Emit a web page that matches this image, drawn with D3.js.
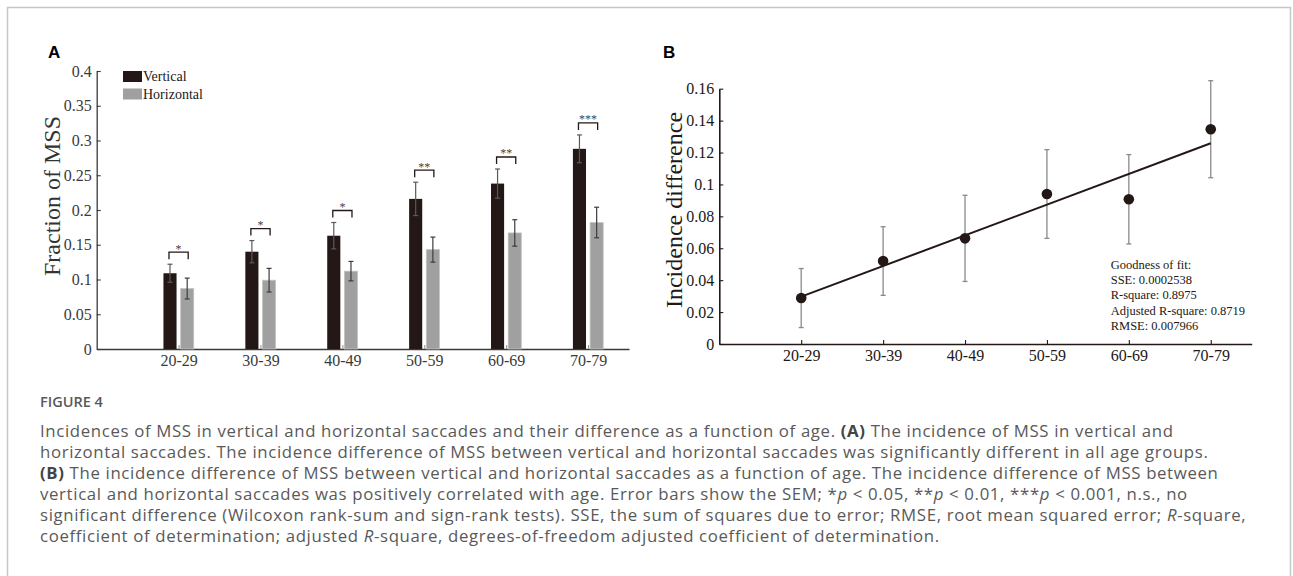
<!DOCTYPE html>
<html>
<head>
<meta charset="utf-8">
<script src="https://cdn.jsdelivr.net/npm/d3@7"></script>
<style>
  body { margin: 0; background: #fff; }
  svg { display: block; }
  .serif { font-family: "Liberation Serif", "Times New Roman", serif; }
  .caption { font-family: "Open Sans", sans-serif; fill: #595959; }
</style>
</head>
<body>
<div id="chart"></div>
<script>

// age groups shared by both panels
const ageGroups = ['20-29', '30-39', '40-49', '50-59', '60-69', '70-79'];

// panel A: fraction of MSS
const verticalMean = [0.109, 0.140, 0.163, 0.216, 0.238, 0.288];
const verticalSem = [0.013, 0.016, 0.019, 0.024, 0.021, 0.020];
const horizontalMean = [0.087, 0.099, 0.112, 0.143, 0.167, 0.182];
const horizontalSem = [0.015, 0.017, 0.014, 0.018, 0.019, 0.022];
const signif = ['*', '*', '*', '**', '**', '***'];
const ticksA = [0, 0.05, 0.1, 0.15, 0.2, 0.25, 0.3, 0.35, 0.4];

// panel B: incidence difference
const diffMean = [0.0288, 0.052, 0.0662, 0.094, 0.0907, 0.1346];
const diffSem = [0.0185, 0.0215, 0.027, 0.0278, 0.028, 0.0304];
const ticksB = [0, 0.02, 0.04, 0.06, 0.08, 0.1, 0.12, 0.14, 0.16];
const fitText = ['Goodness of fit:', 'SSE: 0.0002538', 'R-square: 0.8975', 'Adjusted R-square: 0.8719', 'RMSE: 0.007966'];

const captionTitle = 'FIGURE 4';
const captionLines = [
  [['Incidences of MSS in vertical and horizontal saccades and their difference as a function of age. '], ['(A)', 'b'], [' The incidence of MSS in vertical and']],
  [['horizontal saccades. The incidence difference of MSS between vertical and horizontal saccades was significantly different in all age groups.']],
  [['(B)', 'b'], [' The incidence difference of MSS between vertical and horizontal saccades as a function of age. The incidence difference of MSS between']],
  [['vertical and horizontal saccades was positively correlated with age. Error bars show the SEM; *'], ['p', 'i'], [' < 0.05, **'], ['p', 'i'], [' < 0.01, ***'], ['p', 'i'], [' < 0.001, n.s., no']],
  [['significant difference (Wilcoxon rank-sum and sign-rank tests). SSE, the sum of squares due to error; RMSE, root mean squared error; '], ['R', 'i'], ['-square,']],
  [['coefficient of determination; adjusted '], ['R', 'i'], ['-square, degrees-of-freedom adjusted coefficient of determination.']]
];

const W = 1293, H = 576;
const fmt = (d) => d === 0 ? '0' : String(+d.toFixed(2));

const svg = d3.select('#chart').append('svg')
  .attr('width', W)
  .attr('height', H);

// frame
svg.append('rect')
  .attr('x', 7.5).attr('y', 7.5)
  .attr('width', 1283).attr('height', 600)
  .attr('fill', 'none')
  .attr('stroke', '#c6c6c6')
  .attr('stroke-width', 1.5);

const styleAxis = (g, col) => {
  g.select('.domain').attr('stroke', col).attr('stroke-width', 1.3);
  g.selectAll('.tick line').attr('stroke', col).attr('stroke-width', 1.1);
  g.selectAll('.tick text')
    .attr('class', 'serif')
    .attr('font-size', 16)
    .attr('fill', col);
};

// ---------- panel A ----------
const xA = d3.scaleLinear().domain([0, 6.5]).range([96.7, 629]);
const yA = d3.scaleLinear().domain([0, 0.4]).range([349, 71]);

svg.append('text')
  .attr('x', 48).attr('y', 58)
  .attr('font-family', 'Liberation Sans, Arial, sans-serif')
  .attr('font-weight', 'bold')
  .attr('font-size', 17)
  .text('A');

const gA = svg.append('g');

gA.append('g')
  .attr('transform', `translate(${xA(0)},0)`)
  .call(d3.axisLeft(yA).tickValues(ticksA).tickFormat(fmt).tickSize(-4).tickSizeOuter(0).tickPadding(5))
  .call((g) => styleAxis(g, '#3a3a3a'));

gA.append('g')
  .attr('transform', `translate(0,${yA(0)})`)
  .call(d3.axisBottom(xA).tickValues([1, 2, 3, 4, 5, 6]).tickFormat((d) => ageGroups[d - 1]).tickSize(-4).tickSizeOuter(0).tickPadding(6))
  .call((g) => styleAxis(g, '#3a3a3a'))
  .call((g) => g.selectAll('.tick line').attr('stroke', '#999'));

const groups = ageGroups.map((name, i) => ({
  name,
  pos: i + 1,
  v: verticalMean[i], vs: verticalSem[i],
  h: horizontalMean[i], hs: horizontalSem[i],
  star: signif[i]
}));

const barL = 0.185, barR = 0.025;

// vertical bars
gA.selectAll('.bar-v')
  .data(groups)
  .enter().append('rect')
    .attr('x', (d) => xA(d.pos - barL))
    .attr('width', (d) => xA(d.pos - barR) - xA(d.pos - barL))
    .attr('y', (d) => yA(d.v))
    .attr('height', (d) => yA(0) - yA(d.v))
    .attr('fill', '#231815');

// horizontal bars
gA.selectAll('.bar-h')
  .data(groups)
  .enter().append('rect')
    .attr('x', (d) => xA(d.pos + barR))
    .attr('width', (d) => xA(d.pos + barL) - xA(d.pos + barR))
    .attr('y', (d) => yA(d.h))
    .attr('height', (d) => yA(0) - yA(d.h))
    .attr('fill', '#a0a0a0')
    .attr('stroke', '#c4c4c4')
    .attr('stroke-width', 0.8);

const errBar = (g, cx, lo, hi, col, cap, w) => {
  g.append('line').attr('x1', cx).attr('x2', cx).attr('y1', lo).attr('y2', hi)
    .attr('stroke', col).attr('stroke-width', w);
  [lo, hi].forEach((y) => {
    g.append('line').attr('x1', cx - cap).attr('x2', cx + cap).attr('y1', y).attr('y2', y)
      .attr('stroke', col).attr('stroke-width', w);
  });
};

groups.forEach((d) => {
  const cv = xA(d.pos - (barL + barR) / 2);
  const ch = xA(d.pos + (barL + barR) / 2);
  errBar(gA, cv, yA(d.v - d.vs), yA(d.v + d.vs), '#5a5a5a', 2.5, 1.2);
  errBar(gA, ch, yA(d.h - d.hs), yA(d.h + d.hs), '#3c3c3c', 2.5, 1.2);

  // significance bracket
  const by = yA(d.v + d.vs) - 12;
  gA.append('path')
    .attr('d', `M${cv - 1},${by + 7}V${by}H${ch + 1}V${by + 7}`)
    .attr('fill', 'none')
    .attr('stroke', '#231815')
    .attr('stroke-width', 1.3);
  gA.append('text')
    .attr('class', 'serif')
    .attr('x', (cv + ch) / 2)
    .attr('y', by + 0.5)
    .attr('text-anchor', 'middle')
    .attr('font-size', 12)
    .attr('fill', '#444')
    .text(d.star);
});

// legend
const legend = [['Vertical', '#231815'], ['Horizontal', '#a0a0a0']];
legend.forEach(([name, col], i) => {
  gA.append('rect')
    .attr('x', 123).attr('y', 71 + i * 17.5)
    .attr('width', 19).attr('height', 11)
    .attr('fill', col);
  gA.append('text')
    .attr('class', 'serif')
    .attr('x', 143).attr('y', 81 + i * 17.5)
    .attr('font-size', 14)
    .attr('fill', '#231815')
    .text(name);
});

svg.append('text')
  .attr('class', 'serif')
  .attr('transform', 'translate(60,196) rotate(-90)')
  .attr('text-anchor', 'middle')
  .attr('font-size', 24)
  .attr('fill', '#333')
  .text('Fraction of MSS');

// ---------- panel B ----------
const xB = d3.scaleLinear().domain([0, 6.5]).range([719.3, 1251.7]);
const yB = d3.scaleLinear().domain([0, 0.16]).range([344, 88.7]);

svg.append('text')
  .attr('x', 663).attr('y', 58)
  .attr('font-family', 'Liberation Sans, Arial, sans-serif')
  .attr('font-weight', 'bold')
  .attr('font-size', 17)
  .text('B');

const gB = svg.append('g');

gB.append('g')
  .attr('transform', `translate(${xB(0)},0)`)
  .call(d3.axisLeft(yB).tickValues(ticksB).tickFormat(fmt).tickSize(-4).tickSizeOuter(0).tickPadding(5))
  .call((g) => styleAxis(g, '#231815'));

gB.append('g')
  .attr('transform', `translate(0,${yB(0)})`)
  .call(d3.axisBottom(xB).tickValues([1, 2, 3, 4, 5, 6]).tickFormat((d) => ageGroups[d - 1]).tickSize(-4).tickSizeOuter(0).tickPadding(6))
  .call((g) => styleAxis(g, '#231815'));

gB.selectAll('.domain').attr('stroke-width', 1.6);

const pts = diffMean.map((v, i) => ({ x: i + 1, v, s: diffSem[i] }));

pts.forEach((d) => errBar(gB, xB(d.x), yB(d.v - d.s), yB(d.v + d.s), '#8a8a8a', 2.5, 1.3));

// least-squares fit through the points
const mx = d3.mean(pts, (d) => d.x);
const my = d3.mean(pts, (d) => d.v);
const slope = d3.sum(pts, (d) => (d.x - mx) * (d.v - my)) / d3.sum(pts, (d) => (d.x - mx) ** 2);
const icpt = my - slope * mx;

gB.append('line')
  .attr('x1', xB(1)).attr('y1', yB(icpt + slope))
  .attr('x2', xB(6)).attr('y2', yB(icpt + slope * 6))
  .attr('stroke', '#231815')
  .attr('stroke-width', 2);

gB.selectAll('.pt')
  .data(pts)
  .enter().append('circle')
    .attr('cx', (d) => xB(d.x))
    .attr('cy', (d) => yB(d.v))
    .attr('r', 5.3)
    .attr('fill', '#231815');

gB.selectAll('.fit')
  .data(fitText)
  .enter().append('text')
    .attr('class', 'serif')
    .attr('x', 1110.7)
    .attr('y', (d, i) => 269 + i * 15.2)
    .attr('font-size', 12.5)
    .attr('fill', '#231815')
    .text((d) => d);

svg.append('text')
  .attr('class', 'serif')
  .attr('transform', 'translate(682,210) rotate(-90)')
  .attr('text-anchor', 'middle')
  .attr('font-size', 24)
  .attr('fill', '#231815')
  .text('Incidence difference');

// ---------- caption ----------
svg.append('text')
  .attr('class', 'caption')
  .attr('x', 40).attr('y', 407)
  .attr('font-size', 14.5)
  .attr('font-weight', 600)
  .attr('fill', '#666')
  .text(captionTitle);

captionLines.forEach((segs, i) => {
  const t = svg.append('text')
    .attr('class', 'caption')
    .attr('x', 40)
    .attr('y', 437 + i * 21)
    .attr('font-size', 16.8)
    .attr('letter-spacing', 0.65);
  segs.forEach(([s, st]) => {
    const ts = t.append('tspan').text(s);
    if (st === 'b') ts.attr('font-weight', 'bold').attr('fill', '#444');
    if (st === 'i') ts.attr('font-style', 'italic');
  });
});

</script>
</body>
</html>
